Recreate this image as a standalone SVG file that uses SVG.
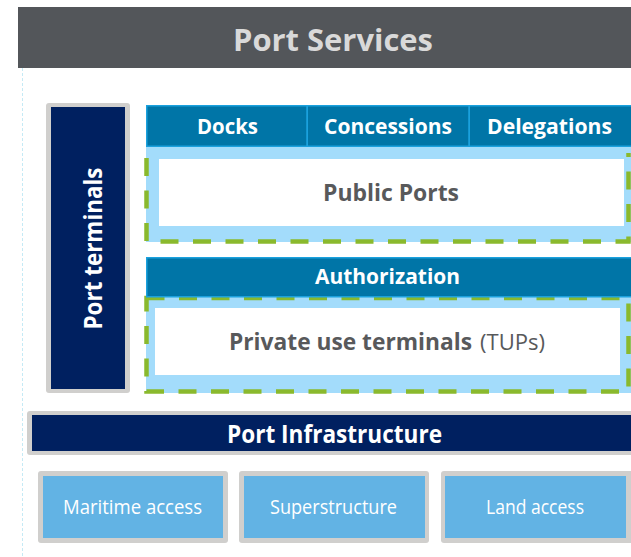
<svg xmlns="http://www.w3.org/2000/svg" width="631" height="557" viewBox="0 0 631 557">
<style>
.t{font-family:"Open Sans","Liberation Sans",sans-serif;}
.b{font-weight:700;}
.w{fill:#ffffff;}
.g{fill:#58595b;}
.hdr{fill:#0075a7;stroke:#1ba1dd;stroke-width:1.5;}
.lb{fill:#a3dcfb;}
.navy{fill:#002060;}
.frame{fill:#d0cfcd;}
.tile{fill:#62b3e4;}
.dash{fill:none;stroke:#8ab92d;stroke-width:4.5;stroke-dasharray:18 14.5;}
</style>
<rect width="631" height="557" fill="#ffffff"/>
<line x1="22.5" y1="68" x2="22.5" y2="557" stroke="#c5eaf5" stroke-width="1" stroke-dasharray="3 2"/>

<g id="port-services">
<rect x="18" y="7" width="613" height="61" fill="#53565a"/>
<text class="t b" x="333" y="51" font-size="31" text-anchor="middle" fill="#d9d9d9" textLength="200" lengthAdjust="spacingAndGlyphs">Port Services</text>
</g>

<g id="port-terminals">
<rect class="frame" x="46" y="103" width="84" height="290" rx="3"/>
<rect class="navy" x="51" y="107" width="74" height="282"/>
<text class="t b w" transform="translate(101.5,248.5) rotate(-90)" font-size="25" text-anchor="middle" textLength="162" lengthAdjust="spacingAndGlyphs">Port terminals</text>
</g>

<g id="public-ports">
<rect class="lb" x="146" y="146" width="485" height="96"/>
<path class="dash" d="M146.5,158 V241.5 H628.5 V153"/>
<rect x="159" y="159" width="465" height="67" fill="#ffffff"/>
<text class="t b g" x="391" y="201" font-size="24" text-anchor="middle" textLength="136" lengthAdjust="spacingAndGlyphs">Public Ports</text>
</g>

<g id="docks">
<rect class="hdr" x="146.75" y="105.75" width="160.5" height="40.5"/>
<text class="t b w" x="227.5" y="134" font-size="22" text-anchor="middle" textLength="61" lengthAdjust="spacingAndGlyphs">Docks</text>
</g>
<g id="concessions">
<rect class="hdr" x="307.25" y="105.75" width="162" height="40.5"/>
<text class="t b w" x="388" y="134" font-size="22" text-anchor="middle" textLength="128" lengthAdjust="spacingAndGlyphs">Concessions</text>
</g>
<g id="delegations">
<rect class="hdr" x="469.25" y="105.75" width="163" height="40.5"/>
<text class="t b w" x="549.5" y="134" font-size="22" text-anchor="middle" textLength="125" lengthAdjust="spacingAndGlyphs">Delegations</text>
</g>

<g id="private-use-terminals">
<rect class="lb" x="146" y="297" width="485" height="96"/>
<rect class="dash" x="146.5" y="298" width="482" height="93.5"/>
<rect x="155" y="308" width="465" height="67" fill="#ffffff"/>
<text class="t g" y="350" font-size="23"><tspan class="b" x="229" textLength="243" lengthAdjust="spacingAndGlyphs">Private use terminals</tspan><tspan x="480" font-size="22" textLength="65" lengthAdjust="spacingAndGlyphs">(TUPs)</tspan></text>
</g>

<g id="authorization">
<rect class="hdr" x="146.75" y="257.75" width="485.5" height="39"/>
<text class="t b w" x="387.5" y="284" font-size="21.5" text-anchor="middle" textLength="145" lengthAdjust="spacingAndGlyphs">Authorization</text>
</g>

<g id="port-infrastructure">
<rect class="frame" x="27" y="411" width="610" height="44" rx="3"/>
<rect class="navy" x="32" y="415" width="605" height="36"/>
<text class="t b w" x="334.5" y="443" font-size="25" text-anchor="middle" textLength="215" lengthAdjust="spacingAndGlyphs">Port Infrastructure</text>
</g>

<g id="maritime-access">
<rect class="frame" x="38" y="471" width="190" height="72" rx="3"/>
<rect class="tile" x="43" y="476" width="180" height="62"/>
<text class="t w" x="132.5" y="514" font-size="20" text-anchor="middle" textLength="139" lengthAdjust="spacingAndGlyphs">Maritime access</text>
</g>
<g id="superstructure">
<rect class="frame" x="239" y="471" width="190" height="72" rx="3"/>
<rect class="tile" x="244" y="476" width="181" height="62"/>
<text class="t w" x="333.5" y="514" font-size="20" text-anchor="middle" textLength="127" lengthAdjust="spacingAndGlyphs">Superstructure</text>
</g>
<g id="land-access">
<rect class="frame" x="441" y="471" width="195" height="72" rx="3"/>
<rect class="tile" x="445" y="476" width="181" height="62"/>
<text class="t w" x="535" y="514" font-size="20" text-anchor="middle" textLength="98" lengthAdjust="spacingAndGlyphs">Land access</text>
</g>

<g id="connectors"></g>
</svg>
